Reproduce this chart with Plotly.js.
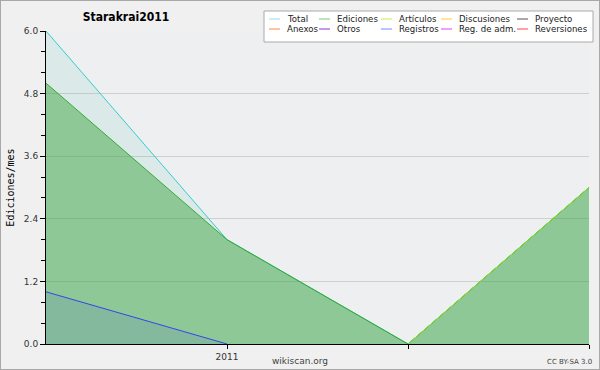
<!DOCTYPE html>
<html>
<head>
<meta charset="utf-8">
<script src="https://cdn.plot.ly/plotly-3.0.1.min.js"></script>
<style>
  html, body { margin: 0; padding: 0; background: #f0f0f0; }
  #wrap { position: relative; width: 600px; height: 370px; }
  #chart { position: absolute; left: 0; top: 0; width: 600px; height: 370px; }
  #frame { position: absolute; left: 0; top: 0; width: 600px; height: 370px; box-sizing: border-box; border: 1px solid #a8a8a8; pointer-events: none; }
</style>
</head>
<body>
<div id="wrap"><div id="chart"></div><div id="frame"></div></div>
<script>
// ---- data ----
const months = ["2010-12", "2011-01", "2011-02", "2011-03"];
const xTickVals = ["2011-01", "2011-02", "2011-03"];
const xTickText = ["2011", "", ""];

const total     = [6, 2, 0, 3];
const ediciones = [5, 2, 0, 3];
const articulos = [null, null, 0, 3];
const registros = [1, 0, null, null];

const legendNames  = ["Total", "Ediciones", "Artículos", "Discusiones", "Proyecto",
                      "Anexos", "Otros", "Registros", "Reg. de adm.", "Reversiones"];
const legendColors = ["#99dddd", "#77cc77", "#ccee44", "#ffcc33", "#555555",
                      "#ff8844", "#8833dd", "#7788ff", "#dd44ee", "#ff4444"];

const yTickVals = [0, 1.2, 2.4, 3.6, 4.8, 6.0];

// ---- helpers: pixel -> paper coords (plot area 46..589 x 31..344) ----
const L = 46, R = 589, T = 31, B = 344;
const px = x => (x - L) / (R - L);
const py = y => (B - y) / (B - T);

const FONT = "DejaVu Sans";

const traces = [
  { x: months, y: total, type: "scatter", mode: "lines", name: "Total",
    line: { color: "#33cccc", width: 1 }, fill: "tozeroy", fillcolor: "rgba(60,200,170,0.10)",
    showlegend: false, hoverinfo: "skip" },
  { x: months, y: ediciones, type: "scatter", mode: "lines", name: "Ediciones",
    line: { color: "#33aa33", width: 1 }, fill: "tozeroy", fillcolor: "rgba(50,160,50,0.45)",
    showlegend: false, hoverinfo: "skip" },
  { x: months, y: articulos, type: "scatter", mode: "lines", name: "Artículos",
    line: { color: "#99dd22", width: 1 },
    showlegend: false, hoverinfo: "skip" },
  { x: months, y: registros, type: "scatter", mode: "lines", name: "Registros",
    line: { color: "#3344ee", width: 1 }, fill: "tozeroy", fillcolor: "rgba(50,60,230,0.10)",
    showlegend: false, hoverinfo: "skip" }
];

// custom legend
const colText = [285, 335, 397, 457, 533];
const rowY = [19, 29];
const shapes = [{
  type: "rect", xref: "paper", yref: "paper",
  x0: px(264), x1: px(593), y0: py(42), y1: py(11),
  fillcolor: "#ffffff", line: { color: "#aaaaaa", width: 1 }, layer: "above"
}];
const annotations = [];
legendNames.forEach((nm, i) => {
  const c = i % 5, r = Math.floor(i / 5);
  const tx = colText[c], ty = rowY[r];
  shapes.push({ type: "line", xref: "paper", yref: "paper",
    x0: px(tx - 16), x1: px(tx - 5), y0: py(ty), y1: py(ty),
    line: { color: legendColors[i], width: 1 }, layer: "above" });
  annotations.push({ xref: "paper", yref: "paper", x: px(tx), y: py(ty),
    xanchor: "left", yanchor: "middle", text: nm, showarrow: false,
    font: { family: FONT, size: 8.6, color: "#222" } });
});
annotations.push({ xref: "paper", yref: "paper", x: px(300), y: py(361),
  xanchor: "center", yanchor: "middle", text: "wikiscan.org", showarrow: false,
  font: { family: FONT, size: 9, color: "#444" } });
annotations.push({ xref: "paper", yref: "paper", x: px(569), y: py(362),
  xanchor: "center", yanchor: "middle", text: "CC BY-SA 3.0", showarrow: false,
  font: { family: FONT, size: 7, color: "#444" } });

const layout = {
  width: 600, height: 370,
  margin: { l: L, r: 600 - R, t: T, b: 370 - B, pad: 0 },
  paper_bgcolor: "#f0f0f0",
  plot_bgcolor: "#eeeff1",
  font: { family: FONT, size: 9, color: "#333" },
  title: { text: "Starakrai2011", x: 126 / 600, xanchor: "center", xref: "container",
           y: 1 - 17 / 370, yanchor: "middle", yref: "container",
           font: { family: "DejaVu Sans Condensed, DejaVu Sans", size: 12, weight: "bold", color: "#000" } },
  showlegend: false,
  xaxis: {
    type: "category", range: [0, 3], showgrid: false, zeroline: false,
    showline: true, linecolor: "#000", linewidth: 1,
    tickmode: "array", tickvals: xTickVals, ticktext: xTickText,
    ticks: "outside", ticklen: 4, tickcolor: "#000",
    tickfont: { family: FONT, size: 9, color: "#333" }, fixedrange: true
  },
  yaxis: {
    range: [0, 6], showgrid: true, gridcolor: "#cfcfcf", gridwidth: 1, zeroline: false,
    showline: true, linecolor: "#000", linewidth: 1,
    tickmode: "array", tickvals: yTickVals, tickformat: ".1f",
    ticks: "outside", ticklen: 5, tickcolor: "#000",
    minor: { dtick: 0.4, tick0: 0, ticks: "outside", ticklen: 4, tickcolor: "#000", showgrid: false },
    tickfont: { family: FONT, size: 9, color: "#333" },
    title: { text: "Ediciones/mes", standoff: 7, font: { family: "DejaVu Sans Mono", size: 10, color: "#000" } },
    fixedrange: true
  },
  shapes: shapes,
  annotations: annotations
};

Plotly.newPlot("chart", traces, layout, { displayModeBar: false, staticPlot: true });
</script>
</body>
</html>
